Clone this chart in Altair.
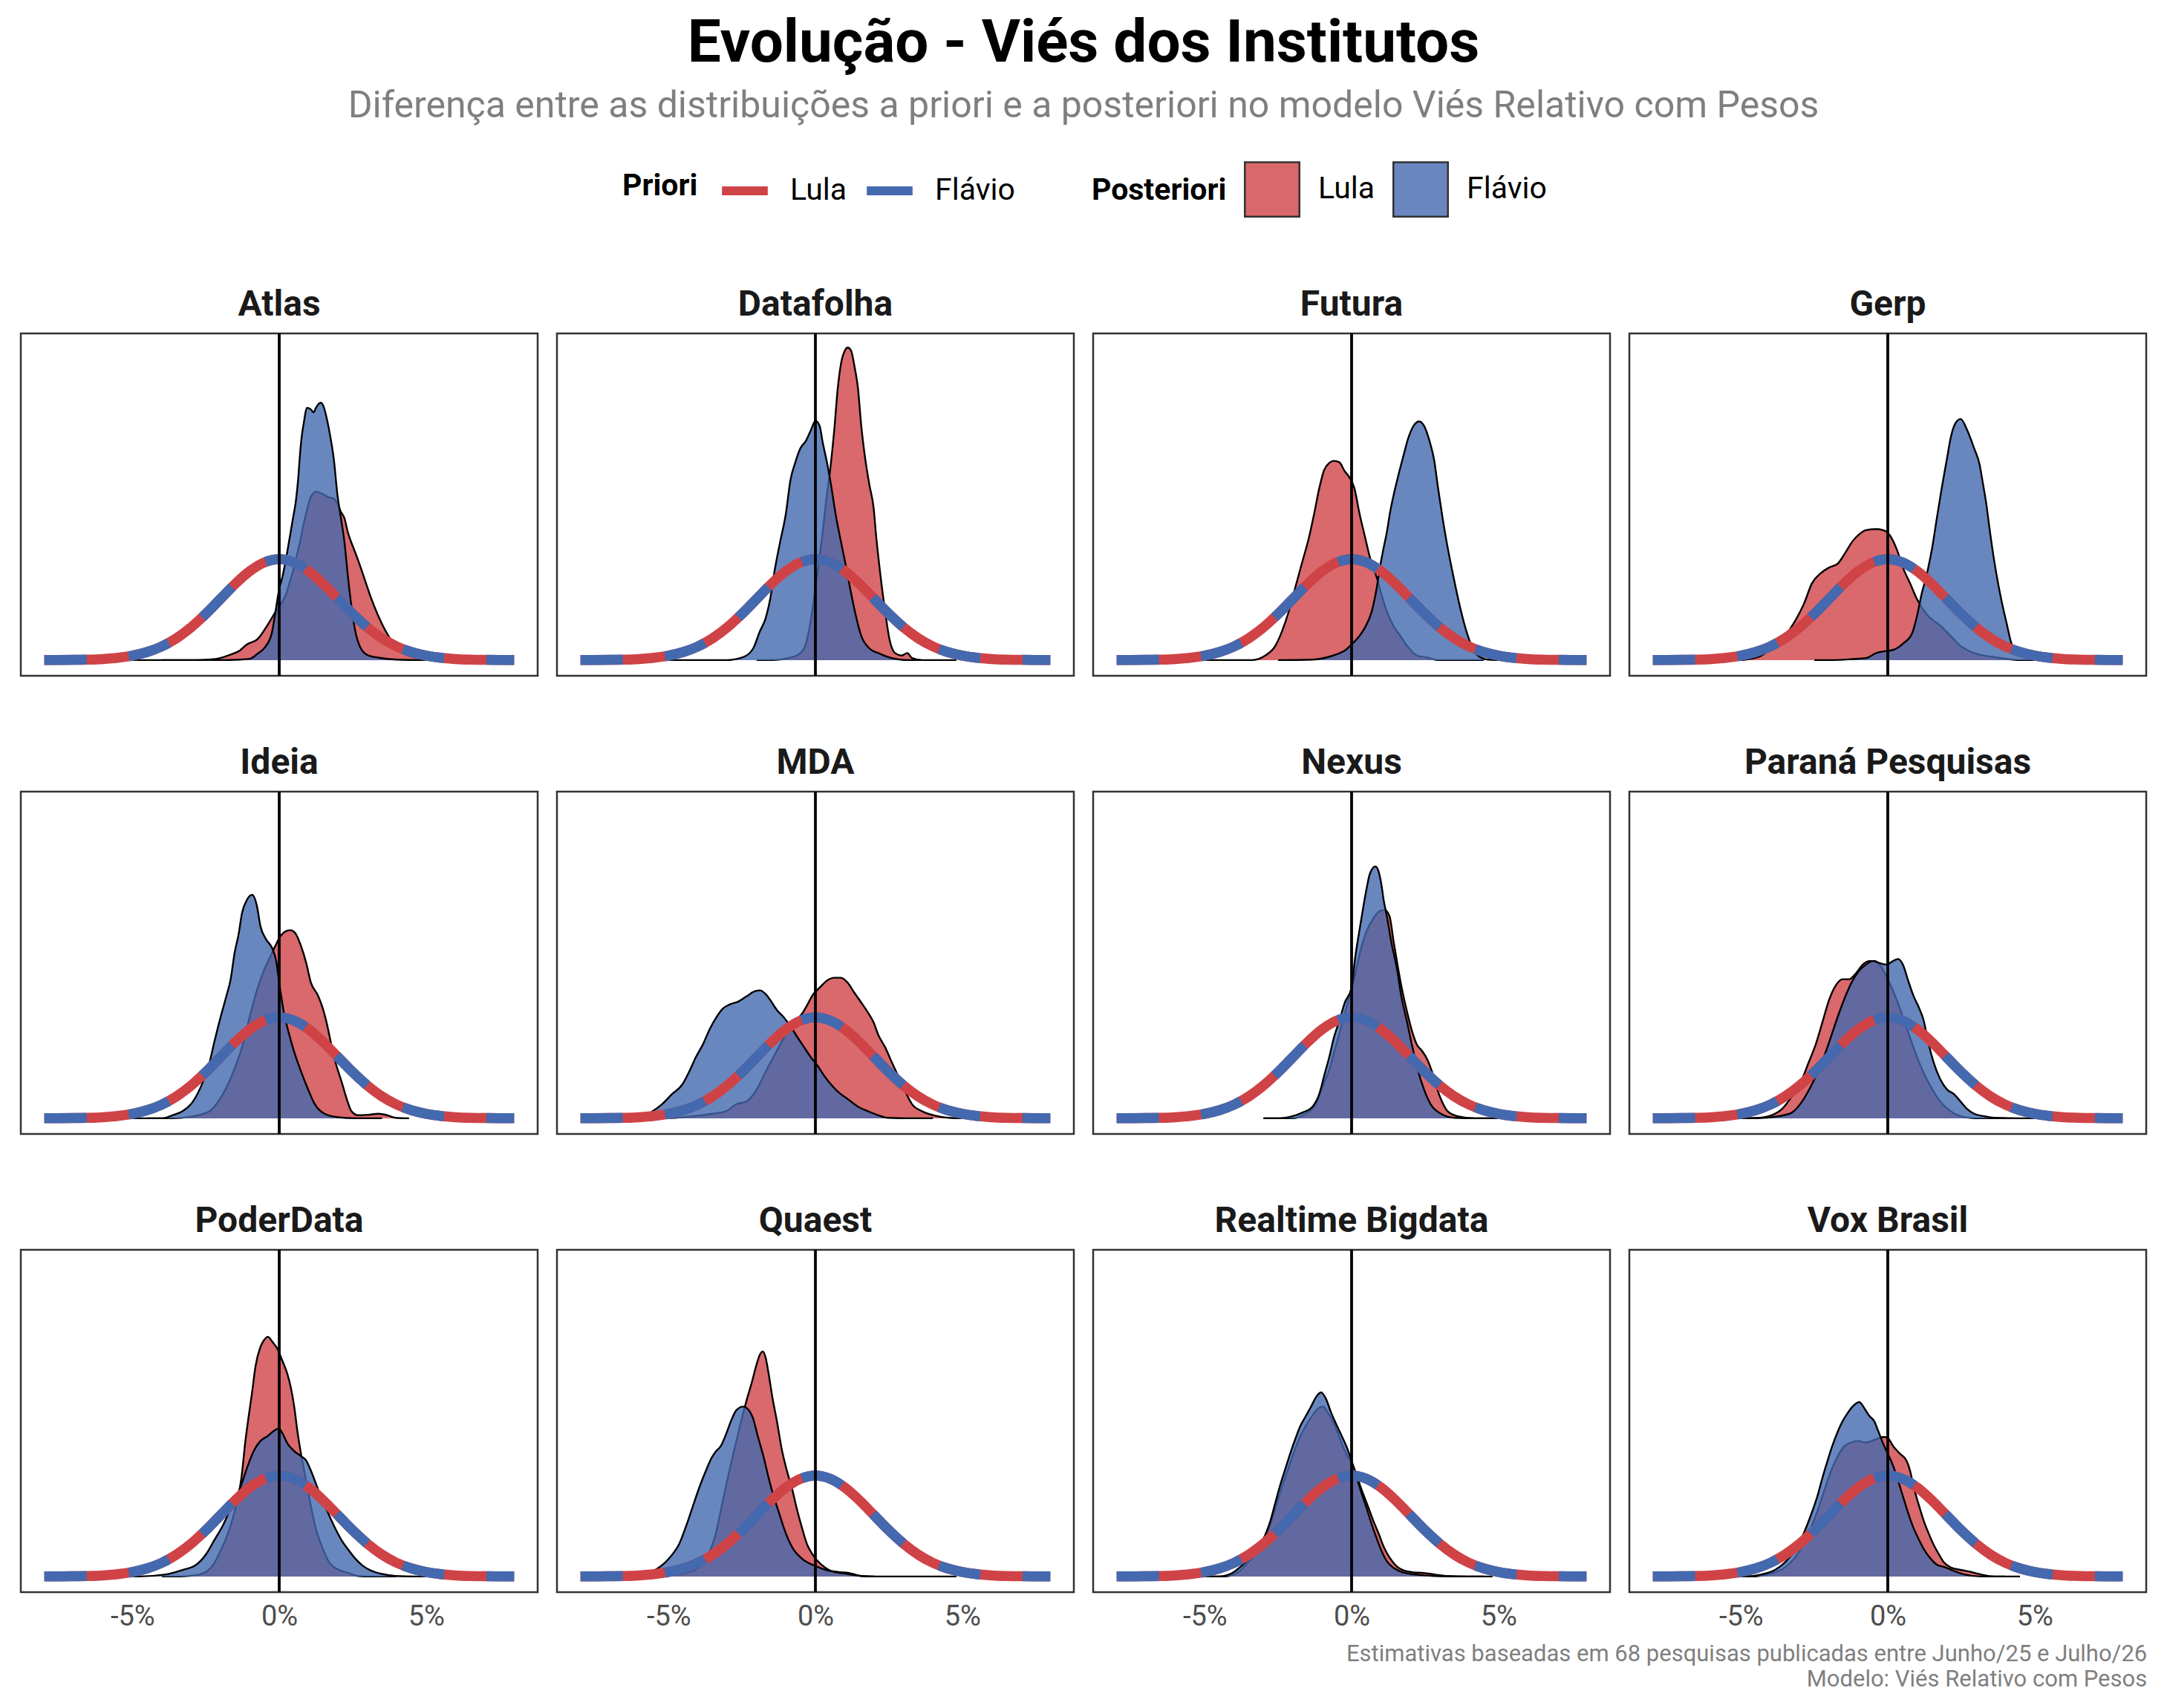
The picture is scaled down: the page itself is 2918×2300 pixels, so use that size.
import altair as alt
import pandas as pd

FONT = "Roboto"
RED = "#CF4347"
BLUE = "#4469AF"

INSTITUTOS = ["Atlas", "Datafolha", "Futura", "Gerp",
              "Ideia", "MDA", "Nexus", "Paraná Pesquisas",
              "PoderData", "Quaest", "Realtime Bigdata", "Vox Brasil"]
CANDIDATOS = ["Lula", "Flávio"]
TICKS = [-5, 0, 5]

# priori comum (mesma curva para os dois candidatos), x em %
PRIOR_X = [-8.0, -7.5, -7.0, -6.5, -6.0, -5.5, -5.0, -4.5, -4.0, -3.5, -3.0, -2.5, -2.0,
           -1.5, -1.0, -0.5, 0.0, 0.5, 1.0, 1.5, 2.0, 2.5, 3.0, 3.5, 4.0, 4.5, 5.0,
           5.5, 6.0, 6.5, 7.0, 7.5, 8.0]
PRIOR_DENS = [0.007, 0.018, 0.044, 0.10, 0.22, 0.45, 0.88, 1.59, 2.70, 4.32, 6.48, 9.13, 12.10,
              15.06, 17.60, 19.33, 19.95, 19.33, 17.60, 15.06, 12.10, 9.13, 6.48,
              4.32, 2.70, 1.59, 0.88, 0.45, 0.22, 0.10, 0.044, 0.018, 0.007]

# posteriores (x em %, densidade)
ATLAS_LULA = [(-5.0, 0), (-2.8, 0), (-2.18, 0.2), (-1.70, 1.0), (-1.34, 1.9), (-1.10, 3.1), (-0.73, 4.2),
              (-0.37, 7.2), (-0.13, 9.5), (0.0, 10.6), (0.23, 13.0), (0.35, 15.3), (0.47, 17.6), (0.59, 20.5),
              (0.71, 23.4), (0.83, 26.9), (0.95, 29.8), (1.07, 32.2), (1.25, 33.3), (1.50, 32.8), (1.68, 32.2),
              (1.86, 31.9), (1.98, 31.0), (2.10, 29.3), (2.22, 28.1), (2.34, 25.2), (2.52, 22.3), (2.64, 20.5),
              (2.88, 16.5), (3.12, 12.4), (3.36, 8.9), (3.60, 6.0), (3.84, 3.7), (4.08, 1.9), (4.45, 0.8),
              (5.05, 0.2), (5.5, 0)]
ATLAS_FLAVIO = [(-4.0, 0), (-2.0, 0), (-1.33, 0.1), (-0.98, 0.3), (-0.73, 1.3), (-0.49, 2.5), (-0.25, 5.4),
                (-0.13, 9.5), (0.0, 14.1), (0.11, 16.5), (0.23, 20.0), (0.35, 24.0), (0.47, 28.1), (0.57, 31.6),
                (0.65, 36.2), (0.71, 40.9), (0.77, 44.4), (0.83, 46.7), (0.95, 49.9), (1.07, 49.6), (1.17, 49.0),
                (1.25, 49.9), (1.41, 50.9), (1.52, 50.0), (1.61, 48.0), (1.73, 44.5), (1.86, 39.7), (1.98, 32.8),
                (2.10, 28.1), (2.22, 23.4), (2.34, 16.5), (2.46, 10.6), (2.58, 6.0), (2.76, 2.5), (3.0, 1.0),
                (3.36, 0.5), (4.0, 0.1), (5.0, 0)]
DATAFOLHA_LULA = [(-2.0, 0), (-1.43, 0), (-0.85, 0.5), (-0.51, 1.4), (-0.32, 3.3), (-0.18, 7.1), (-0.05, 12.1),
                  (0.09, 18.0), (0.23, 24.4), (0.37, 31.7), (0.51, 38.0), (0.64, 45.4), (0.76, 53.7), (0.87, 58.6),
                  (1.01, 61.3), (1.10, 61.8), (1.22, 61.1), (1.33, 58.1), (1.45, 53.7), (1.56, 46.4), (1.68, 40.5),
                  (1.84, 34.6), (1.98, 30.2), (2.07, 24.4), (2.21, 17.0), (2.37, 9.8), (2.53, 3.9), (2.71, 1.4),
                  (2.94, 0.9), (3.13, 1.4), (3.29, 0.4), (3.63, 0), (4.8, 0)]
DATAFOLHA_FLAVIO = [(-5.0, 0), (-3.04, 0), (-2.46, 0.6), (-2.12, 2.3), (-1.89, 5.7), (-1.70, 8.2), (-1.54, 12.1),
                    (-1.38, 18.0), (-1.20, 23.4), (-1.01, 28.8), (-0.85, 35.6), (-0.69, 39.0), (-0.51, 41.9),
                    (-0.32, 43.4), (-0.16, 45.4), (0.0, 47.3), (0.14, 46.4), (0.25, 43.0), (0.41, 38.6), (0.53, 34.7),
                    (0.69, 28.8), (0.87, 23.4), (1.06, 18.0), (1.22, 13.1), (1.38, 8.7), (1.56, 4.8), (1.84, 2.3),
                    (2.14, 1.4), (2.48, 0.6), (3.17, 0), (3.6, 0)]
FUTURA_LULA = [(-5.0, 0), (-3.40, 0), (-2.94, 0.9), (-2.60, 2.8), (-2.37, 5.7), (-2.14, 9.6), (-1.91, 14.5),
               (-1.68, 19.4), (-1.45, 24.3), (-1.27, 29.1), (-1.10, 34.0), (-0.94, 37.5), (-0.76, 39.0), (-0.60, 39.4),
               (-0.41, 39.1), (-0.25, 37.5), (-0.07, 36.1), (0.09, 34.1), (0.28, 28.7), (0.46, 24.3), (0.62, 20.4),
               (0.85, 16.5), (1.01, 13.1), (1.20, 9.6), (1.43, 6.7), (1.66, 4.8), (1.89, 2.8), (2.23, 0.9),
               (2.58, 0.5), (2.92, 0), (4.5, 0)]
FUTURA_FLAVIO = [(-2.5, 0), (-1.33, 0.1), (-0.87, 0.5), (-0.53, 1.1), (-0.23, 1.9), (0.0, 3.1), (0.23, 4.5),
                 (0.46, 6.5), (0.69, 9.7), (0.85, 14.1), (0.97, 18.5), (1.08, 21.9), (1.20, 25.3), (1.31, 29.2),
                 (1.43, 32.6), (1.59, 36.5), (1.77, 40.5), (1.93, 43.9), (2.12, 46.4), (2.30, 47.2), (2.46, 46.4),
                 (2.65, 43.4), (2.81, 39.6), (2.94, 34.2), (3.08, 28.8), (3.22, 23.9), (3.38, 19.0), (3.54, 14.5),
                 (3.73, 9.6), (3.91, 5.7), (4.09, 2.8), (4.30, 0.9), (4.65, 0.1), (5.11, 0), (6.0, 0)]
GERP_LULA = [(-5.5, 0), (-5.11, 0), (-4.42, 0.6), (-3.96, 2.3), (-3.50, 4.8), (-3.15, 7.8), (-2.85, 11.2),
             (-2.58, 15.2), (-2.30, 17.1), (-2.00, 18.3), (-1.70, 19.1), (-1.47, 21.0), (-1.20, 23.5), (-0.97, 24.9),
             (-0.74, 25.7), (-0.39, 25.9), (-0.16, 25.7), (0.07, 24.7), (0.30, 22.0), (0.53, 18.1), (0.76, 15.2),
             (0.99, 12.1), (1.33, 9.0), (1.79, 6.8), (2.14, 4.8), (2.48, 2.8), (2.94, 1.4), (3.63, 0.6),
             (4.55, 0), (5.0, 0)]
GERP_FLAVIO = [(-2.5, 0), (-1.89, 0), (-1.20, 0.2), (-0.74, 0.4), (-0.39, 1.4), (-0.05, 1.8), (0.18, 2.0),
               (0.53, 3.3), (0.83, 5.3), (0.99, 8.6), (1.15, 13.0), (1.33, 17.0), (1.52, 22.5), (1.68, 28.4),
               (1.84, 34.1), (2.02, 40.0), (2.14, 43.9), (2.30, 46.8), (2.48, 47.7), (2.71, 45.4), (2.94, 41.9),
               (3.13, 38.6), (3.22, 35.6), (3.36, 30.7), (3.47, 25.8), (3.59, 20.9), (3.70, 17.0), (3.86, 12.1),
               (4.05, 7.2), (4.21, 3.3), (4.44, 1.4), (4.7, 0.5), (5.2, 0.1), (5.8, 0)]
IDEIA_LULA = [(-4.5, 0), (-3.63, 0), (-2.94, 0.4), (-2.37, 1.4), (-2.02, 3.8), (-1.56, 9.2), (-1.22, 15.0),
              (-0.99, 20.4), (-0.76, 25.3), (-0.53, 29.1), (-0.30, 32.0), (-0.14, 34.0), (0.05, 36.1), (0.23, 37.0),
              (0.39, 37.2), (0.55, 36.6), (0.74, 34.1), (0.92, 30.7), (1.08, 26.8), (1.31, 24.4), (1.47, 22.0),
              (1.61, 19.0), (1.77, 14.7), (1.93, 10.8), (2.12, 7.3), (2.30, 3.8), (2.46, 1.4), (2.69, 0.6),
              (3.04, 0.7), (3.38, 0.9), (3.68, 0.6), (3.96, 0.1), (4.42, 0)]
IDEIA_FLAVIO = [(-5.0, 0), (-3.98, 0), (-3.63, 0.6), (-3.29, 1.4), (-2.94, 3.3), (-2.60, 7.2), (-2.37, 11.1),
                (-2.21, 15.1), (-2.02, 19.5), (-1.79, 24.4), (-1.66, 27.3), (-1.52, 32.7), (-1.38, 36.5),
                (-1.27, 40.5), (-1.10, 43.2), (-0.92, 44.2), (-0.76, 42.0), (-0.64, 38.0), (-0.46, 35.5),
                (-0.23, 33.5), (-0.10, 31.0), (0.0, 26.8), (0.16, 20.9), (0.32, 17.0), (0.51, 13.1), (0.74, 9.3),
                (0.97, 5.9), (1.20, 2.9), (1.54, 0.9), (2.00, 0.2), (2.58, 0), (3.5, 0)]
MDA_LULA = [(-5.5, 0), (-5.11, 0), (-4.19, 0.4), (-3.50, 0.9), (-3.04, 1.4), (-2.69, 2.8), (-2.35, 3.3),
            (-2.00, 5.7), (-1.66, 9.6), (-1.31, 13.4), (-0.97, 16.9), (-0.74, 18.8), (-0.44, 20.8), (-0.28, 22.4),
            (-0.09, 24.4), (0.14, 25.8), (0.41, 27.3), (0.64, 27.8), (0.87, 27.8), (1.10, 26.8), (1.33, 24.8),
            (1.56, 22.9), (1.79, 20.9), (1.98, 19.0), (2.14, 16.5), (2.37, 14.1), (2.60, 11.1), (2.83, 8.2),
            (3.06, 5.3), (3.29, 2.8), (3.63, 1.4), (4.09, 0.5), (4.55, 0.1), (5.01, 0)]
MDA_FLAVIO = [(-6.5, 0), (-6.03, 0), (-5.57, 1.3), (-5.22, 2.8), (-4.88, 4.8), (-4.53, 6.7), (-4.30, 9.2),
              (-4.07, 12.1), (-3.84, 14.5), (-3.61, 17.5), (-3.38, 19.9), (-3.15, 21.7), (-2.92, 22.5),
              (-2.62, 23.1), (-2.35, 24.1), (-2.07, 25.1), (-1.89, 25.3), (-1.70, 24.6), (-1.54, 23.4),
              (-1.31, 21.4), (-1.08, 20.0), (-0.85, 18.2), (-0.62, 16.1), (-0.39, 14.1), (-0.16, 12.1), (0.07, 10.4),
              (0.30, 8.4), (0.53, 6.7), (0.76, 5.3), (1.10, 3.8), (1.45, 2.3), (1.79, 1.4), (2.14, 0.6),
              (2.48, 0.1), (3.17, 0), (4.0, 0)]
NEXUS_LULA = [(-3.0, 0), (-2.02, 0), (-1.56, 0.9), (-1.22, 2.8), (-0.99, 6.3), (-0.76, 9.6), (-0.60, 13.0),
              (-0.41, 16.9), (-0.23, 20.8), (-0.07, 24.3), (0.09, 27.6), (0.28, 32.6), (0.51, 37.0), (0.74, 39.5),
              (0.97, 41.0), (1.13, 41.2), (1.29, 40.0), (1.43, 35.0), (1.56, 30.5), (1.70, 26.0), (1.89, 21.0),
              (2.07, 17.0), (2.23, 14.5), (2.39, 13.4), (2.58, 11.6), (2.74, 9.2), (2.92, 5.7), (3.08, 3.3),
              (3.27, 1.4), (3.61, 0.4), (4.19, 0), (5.0, 0)]
NEXUS_FLAVIO = [(-3.0, 0), (-2.48, 0), (-2.02, 0.4), (-1.68, 1.1), (-1.33, 2.3), (-1.10, 4.8), (-0.92, 8.7),
                (-0.76, 12.1), (-0.60, 16.0), (-0.41, 19.4), (-0.23, 22.9), (0.0, 25.8), (0.12, 31.7), (0.28, 37.6),
                (0.39, 41.5), (0.51, 45.4), (0.62, 48.3), (0.81, 49.8), (0.92, 48.8), (1.01, 46.4), (1.10, 42.9),
                (1.20, 40.0), (1.36, 34.6), (1.54, 29.7), (1.70, 23.9), (1.89, 19.0), (2.07, 14.1), (2.25, 9.7),
                (2.46, 5.8), (2.69, 2.8), (3.04, 0.9), (3.50, 0.1), (4.19, 0), (5.0, 0)]
PARANA_LULA = [(-5.5, 0), (-5.11, 0), (-4.42, 0.1), (-3.96, 0.6), (-3.61, 1.8), (-3.27, 4.3), (-2.92, 7.7),
               (-2.69, 11.1), (-2.46, 14.5), (-2.23, 18.9), (-2.00, 23.4), (-1.77, 26.3), (-1.54, 27.5),
               (-1.31, 27.5), (-1.08, 28.7), (-0.85, 30.4), (-0.62, 31.1), (-0.44, 31.1), (-0.28, 30.4),
               (-0.05, 28.1), (0.18, 25.2), (0.41, 21.8), (0.64, 17.9), (0.87, 14.1), (1.10, 10.6), (1.33, 7.7),
               (1.56, 5.3), (1.79, 3.3), (2.14, 1.4), (2.48, 0.4), (2.94, 0), (4.0, 0)]
PARANA_FLAVIO = [(-5.0, 0), (-4.42, 0), (-3.73, 0.4), (-3.27, 1.1), (-2.92, 3.3), (-2.62, 6.3), (-2.35, 9.6),
                 (-2.12, 13.0), (-1.89, 16.9), (-1.66, 20.8), (-1.43, 24.3), (-1.20, 27.2), (-0.97, 29.2),
                 (-0.74, 30.4), (-0.51, 31.1), (-0.28, 30.7), (-0.05, 30.4), (0.18, 31.1), (0.35, 31.5),
                 (0.53, 30.2), (0.69, 27.3), (0.87, 24.3), (1.06, 21.9), (1.22, 19.4), (1.38, 15.0), (1.56, 11.1),
                 (1.79, 7.7), (2.02, 5.7), (2.25, 4.8), (2.48, 3.3), (2.71, 1.8), (2.94, 0.9), (3.29, 0.4),
                 (3.63, 0.1), (4.55, 0), (5.5, 0)]
PODERDATA_LULA = [(-4.0, 0), (-3.40, 0), (-2.71, 0.4), (-2.25, 2.3), (-2.02, 4.8), (-1.68, 9.6), (-1.45, 14.5),
                  (-1.29, 19.4), (-1.15, 26.9), (-1.04, 31.7), (-0.92, 36.6), (-0.81, 41.5), (-0.64, 45.4),
                  (-0.51, 46.8), (-0.39, 47.4), (-0.23, 46.4), (-0.05, 44.9), (0.09, 42.9), (0.28, 40.0),
                  (0.39, 37.5), (0.51, 33.6), (0.62, 28.7), (0.74, 24.3), (0.90, 19.4), (1.06, 14.5), (1.24, 9.6),
                  (1.47, 5.7), (1.70, 2.8), (2.00, 1.4), (2.35, 0.7), (2.69, 0.1), (3.04, 0), (4.0, 0)]
PODERDATA_FLAVIO = [(-5.5, 0), (-4.78, 0), (-3.86, 0.4), (-3.29, 1.3), (-2.83, 2.3), (-2.48, 4.5), (-2.21, 7.2),
                    (-1.91, 10.2), (-1.61, 14.1), (-1.33, 17.5), (-1.10, 21.4), (-0.87, 24.8), (-0.64, 26.8),
                    (-0.41, 27.7), (-0.18, 28.8), (-0.02, 29.3), (0.12, 28.2), (0.28, 26.3), (0.51, 24.8),
                    (0.74, 23.8), (0.92, 22.9), (1.08, 20.9), (1.24, 18.5), (1.43, 15.6), (1.66, 12.6), (1.89, 9.7),
                    (2.12, 7.2), (2.35, 5.3), (2.58, 3.6), (2.85, 2.1), (3.15, 1.1), (3.50, 0.5), (3.96, 0.1),
                    (4.65, 0), (5.5, 0)]
QUAEST_LULA = [(-6.0, 0), (-5.57, 0), (-4.65, 0.4), (-3.96, 1.8), (-3.61, 4.8), (-3.38, 8.7), (-3.22, 13.1),
               (-3.04, 18.0), (-2.85, 22.9), (-2.69, 26.8), (-2.53, 30.7), (-2.35, 34.7), (-2.16, 38.5),
               (-2.00, 42.0), (-1.89, 43.9), (-1.79, 44.5), (-1.70, 43.4), (-1.59, 40.0), (-1.47, 35.6),
               (-1.31, 30.7), (-1.15, 25.3), (-0.97, 20.9), (-0.78, 17.0), (-0.62, 13.1), (-0.46, 9.7),
               (-0.28, 6.3), (-0.09, 4.3), (0.07, 3.1), (0.30, 1.9), (0.53, 1.1), (0.76, 0.9), (0.99, 0.8),
               (1.22, 0.6), (1.56, 0.1), (2.02, 0), (4.8, 0)]
QUAEST_FLAVIO = [(-6.2, 0), (-5.80, 0), (-5.45, 1.3), (-5.11, 2.8), (-4.88, 4.3), (-4.65, 6.3), (-4.42, 9.7),
                 (-4.19, 13.6), (-3.96, 17.5), (-3.73, 20.9), (-3.54, 23.4), (-3.38, 24.8), (-3.22, 25.8),
                 (-3.04, 28.2), (-2.85, 31.1), (-2.69, 32.9), (-2.46, 33.6), (-2.30, 33.1), (-2.12, 31.2),
                 (-1.96, 27.7), (-1.77, 23.8), (-1.61, 19.9), (-1.43, 16.0), (-1.24, 12.6), (-1.08, 9.7),
                 (-0.92, 7.3), (-0.74, 5.3), (-0.51, 3.8), (-0.28, 2.8), (0.0, 2.1), (0.30, 1.4), (0.64, 0.9),
                 (1.10, 0.5), (1.56, 0.1), (2.02, 0)]
REALTIME_LULA = [(-5.0, 0), (-4.32, 0), (-3.86, 0.9), (-3.52, 2.8), (-3.17, 5.3), (-2.90, 8.2), (-2.67, 12.1),
                 (-2.44, 16.5), (-2.21, 20.4), (-1.98, 24.3), (-1.75, 27.7), (-1.52, 30.2), (-1.29, 32.2),
                 (-1.10, 33.4), (-0.97, 33.6), (-0.83, 32.6), (-0.64, 30.7), (-0.46, 28.2), (-0.30, 25.8),
                 (-0.14, 23.8), (0.05, 21.9), (0.23, 19.0), (0.39, 16.4), (0.55, 14.0), (0.74, 11.0), (0.92, 8.5),
                 (1.10, 5.8), (1.31, 3.6), (1.54, 2.0), (1.77, 1.2), (2.12, 0.8), (2.46, 0.7), (2.81, 0.4),
                 (3.27, 0.1), (3.96, 0), (4.8, 0)]
REALTIME_FLAVIO = [(-5.0, 0), (-4.55, 0), (-4.09, 0.6), (-3.75, 2.1), (-3.45, 3.8), (-3.17, 5.7), (-2.94, 8.2),
                   (-2.76, 11.1), (-2.60, 14.5), (-2.44, 17.9), (-2.25, 21.4), (-2.09, 24.3), (-1.91, 27.3),
                   (-1.75, 29.7), (-1.56, 31.7), (-1.38, 33.6), (-1.22, 35.4), (-1.04, 36.4), (-0.87, 35.1),
                   (-0.71, 32.6), (-0.53, 30.2), (-0.37, 28.2), (-0.18, 25.8), (0.0, 22.9), (0.16, 19.9),
                   (0.32, 16.8), (0.51, 13.5), (0.69, 10.2), (0.85, 7.6), (1.01, 5.2), (1.20, 3.0), (1.43, 1.7),
                   (1.66, 1.0), (2.00, 0.5), (2.35, 0.3), (2.81, 0.1), (3.50, 0), (4.5, 0)]
VOX_LULA = [(-5.2, 0), (-4.65, 0), (-3.96, 0.6), (-3.50, 1.8), (-3.15, 3.8), (-2.85, 6.7), (-2.62, 9.6),
            (-2.39, 13.0), (-2.16, 17.0), (-1.93, 20.9), (-1.70, 23.8), (-1.47, 25.8), (-1.24, 26.5), (-1.01, 26.8),
            (-0.78, 26.5), (-0.55, 26.8), (-0.32, 27.3), (-0.14, 27.6), (0.0, 27.4), (0.18, 25.8), (0.41, 24.3),
            (0.64, 22.9), (0.76, 20.9), (0.87, 18.0), (1.06, 14.1), (1.22, 11.1), (1.38, 8.7), (1.56, 6.3),
            (1.75, 4.3), (1.91, 2.8), (2.14, 1.8), (2.48, 1.3), (2.83, 0.9), (3.17, 0.4), (3.63, 0), (4.5, 0)]
VOX_FLAVIO = [(-5.5, 0), (-4.88, 0), (-4.30, 0.4), (-3.84, 1.3), (-3.50, 2.8), (-3.15, 5.3), (-2.85, 8.7),
              (-2.62, 12.1), (-2.39, 16.0), (-2.23, 19.4), (-2.05, 22.9), (-1.89, 25.8), (-1.70, 28.7),
              (-1.54, 30.7), (-1.38, 32.2), (-1.20, 33.6), (-0.97, 34.5), (-0.78, 33.1), (-0.62, 31.7),
              (-0.46, 30.7), (-0.32, 28.7), (-0.16, 26.3), (0.0, 24.3), (0.18, 21.9), (0.35, 19.0), (0.53, 15.6),
              (0.69, 12.6), (0.87, 9.7), (1.06, 7.3), (1.24, 5.3), (1.45, 3.6), (1.68, 2.3), (1.91, 1.9),
              (2.25, 1.1), (2.60, 0.4), (3.17, 0), (4.0, 0)]

POSTERIORES = {
    "Atlas": (ATLAS_LULA, ATLAS_FLAVIO),
    "Datafolha": (DATAFOLHA_LULA, DATAFOLHA_FLAVIO),
    "Futura": (FUTURA_LULA, FUTURA_FLAVIO),
    "Gerp": (GERP_LULA, GERP_FLAVIO),
    "Ideia": (IDEIA_LULA, IDEIA_FLAVIO),
    "MDA": (MDA_LULA, MDA_FLAVIO),
    "Nexus": (NEXUS_LULA, NEXUS_FLAVIO),
    "Paraná Pesquisas": (PARANA_LULA, PARANA_FLAVIO),
    "PoderData": (PODERDATA_LULA, PODERDATA_FLAVIO),
    "Quaest": (QUAEST_LULA, QUAEST_FLAVIO),
    "Realtime Bigdata": (REALTIME_LULA, REALTIME_FLAVIO),
    "Vox Brasil": (VOX_LULA, VOX_FLAVIO),
}

TITULO = "Evolução - Viés dos Institutos"
SUBTITULO = "Diferença entre as distribuições a priori e a posteriori no modelo Viés Relativo com Pesos"
RODAPE = ["Estimativas baseadas em 68 pesquisas publicadas entre Junho/25 e Julho/26",
          "Modelo: Viés Relativo com Pesos"]
SUFIXO_PRIORI = " (priori)"

# -----------------------------
# tabela longa
# -----------------------------
rows = []
for inst in INSTITUTOS:
    for cand, curva in zip(CANDIDATOS, POSTERIORES[inst]):
        for x, d in curva:
            rows.append({"instituto": inst, "serie": "post", "candidato": cand, "x": x, "dens": d})
        for x, d in zip(PRIOR_X, PRIOR_DENS):
            rows.append({"instituto": inst, "serie": "prior", "candidato": cand, "x": x, "dens": d})
df = pd.DataFrame(rows)

base = alt.Chart(df)

x_enc = alt.X(
    "x:Q",
    title=None,
    scale=alt.Scale(domain=[-8.8, 8.8], nice=False, zero=False),
    axis=alt.Axis(values=TICKS, labelExpr="datum.value + '%'", ticks=False, domain=False, grid=False,
                  labelFontSize=38, labelColor="#4d4d4d", labelFont=FONT, labelPadding=6),
)
y_enc = alt.Y("dens:Q", scale=alt.Scale(domain=[-3.1, 64.6], nice=False, zero=False), axis=None)

post_scale = alt.Scale(domain=CANDIDATOS, range=[RED, BLUE])
# domínio distinto => o Vega-Lite não funde as duas legendas
prior_scale = alt.Scale(domain=[c + SUFIXO_PRIORI for c in CANDIDATOS], range=[RED, BLUE])

legend_post = alt.Legend(
    title="Posteriori", orient="none", legendX=1442, legendY=-232, direction="horizontal",
    titleOrient="left", titleAnchor="middle", titleBaseline="middle",
    titleFontSize=41, titleFont=FONT, titleFontWeight="bold", titleColor="black",
    titleLimit=500, labelFontSize=41, labelFont=FONT, labelColor="black", symbolType="square",
    symbolSize=5400, symbolStrokeColor="black", symbolStrokeWidth=2.5, symbolOpacity=0.8,
    titlePadding=23, labelOffset=24, columnPadding=19, padding=0,
)
legend_prior = alt.Legend(
    title="Priori", orient="none", legendX=810, legendY=-229, direction="horizontal",
    titleOrient="left", titleAnchor="middle", titleBaseline="middle",
    titleFontSize=41, titleFont=FONT, titleFontWeight="bold", titleColor="black",
    titleLimit=500, labelFontSize=41, labelFont=FONT, labelColor="black", symbolType="stroke",
    symbolSize=3800, symbolStrokeWidth=12, titlePadding=26, labelOffset=24, columnPadding=2, padding=0,
    labelExpr=f"replace(datum.label, '{SUFIXO_PRIORI}', '')",
)


def post_layers(cand):
    sel = base.transform_filter((alt.datum.serie == "post") & (alt.datum.candidato == cand))
    area = sel.mark_area(interpolate="monotone", fillOpacity=0.8).encode(
        x=x_enc, y=y_enc, y2=alt.datum(0),
        fill=alt.Fill("candidato:N", scale=post_scale, legend=legend_post),
    )
    outline = sel.mark_line(interpolate="monotone", color="black", strokeWidth=2.4).encode(x=x_enc, y=y_enc)
    return [area, outline]


prior_sel = base.transform_filter(alt.datum.serie == "prior").transform_calculate(
    cand_priori=f"datum.candidato + '{SUFIXO_PRIORI}'"
)
prior_lula = prior_sel.transform_filter(alt.datum.candidato == "Lula").mark_line(
    interpolate="monotone", strokeWidth=13.5, strokeCap="butt"
).encode(x=x_enc, y=y_enc, stroke=alt.Stroke("cand_priori:N", scale=prior_scale, legend=legend_prior))
prior_flavio = prior_sel.transform_filter(alt.datum.candidato == "Flávio").mark_line(
    interpolate="monotone", strokeWidth=13.5, strokeCap="butt", strokeDash=[57, 57]
).encode(x=x_enc, y=y_enc, stroke=alt.Stroke("cand_priori:N", scale=prior_scale, legend=None))

zero_line = base.transform_filter(
    (alt.datum.serie == "prior") & (alt.datum.candidato == "Lula") & (alt.datum.x == 0)
).mark_rule(color="black", strokeWidth=3.8).encode(x=alt.datum(0))

panel = alt.layer(
    *post_layers("Lula"), *post_layers("Flávio"), prior_lula, prior_flavio, zero_line
).properties(width=696, height=461)

grid = panel.facet(
    facet=alt.Facet(
        "instituto:N", sort=INSTITUTOS, title=None,
        header=alt.Header(labelFontSize=48, labelFontWeight="bold", labelColor="#1a1a1a",
                          labelFont=FONT, labelPadding=12),
    ),
    columns=4,
    spacing={"row": 84, "column": 22},
).properties(
    title=alt.TitleParams(RODAPE, orient="bottom", anchor="end", fontSize=31, font=FONT,
                          fontWeight="normal", color="#7f7f7f", lineHeight=34, offset=17)
)

chart = alt.vconcat(grid).properties(
    title=alt.TitleParams(
        TITULO, subtitle=SUBTITULO, anchor="middle", fontSize=80, font=FONT, fontWeight="bold",
        color="black", subtitleFontSize=50, subtitleFont=FONT, subtitleColor="#7f7f7f",
        subtitlePadding=18, offset=48,
    ),
    padding={"left": 18, "top": 11, "right": 10, "bottom": 6},
    background="white",
).configure_view(stroke="#333333", strokeWidth=2.5)

chart.save("out.html", embed_options={"renderer": "svg", "actions": False})
